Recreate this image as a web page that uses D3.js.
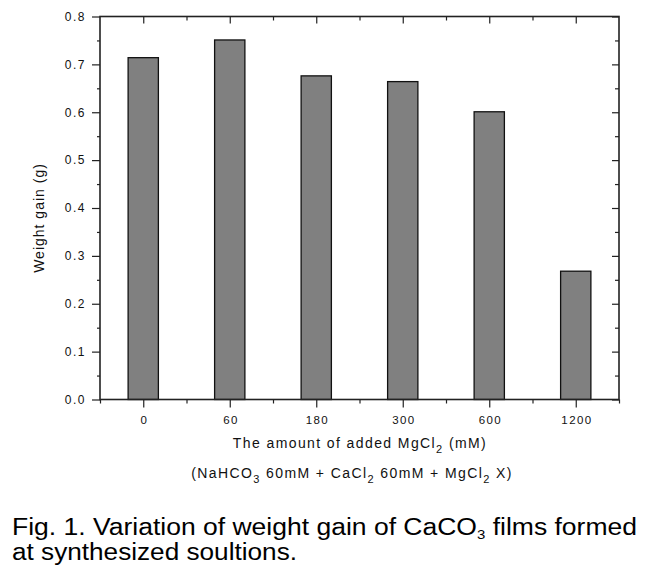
<!DOCTYPE html>
<html>
<head>
<meta charset="utf-8">
<script src="https://cdn.jsdelivr.net/npm/d3@7"></script>
<style>
  body { margin: 0; background: #fff; }
  svg text { font-family: "Liberation Sans", Arial, sans-serif; fill: #111; }
</style>
</head>
<body>
<div id="chart"></div>
<script>
// data
var categories = ["0", "60", "180", "300", "600", "1200"];
var weightGain = [0.714, 0.751, 0.676, 0.664, 0.601, 0.268];
var yMajorTicks = [0.0, 0.1, 0.2, 0.3, 0.4, 0.5, 0.6, 0.7, 0.8];
var yMinorTicks = [0.05, 0.15, 0.25, 0.35, 0.45, 0.55, 0.65, 0.75];

var data = categories.map(function (c, i) { return { cat: c, value: weightGain[i] }; });

var W = 657, H = 574;
var margin = { left: 100, right: 38, top: 16.5, bottom: 174.5 };
var width = W - margin.left - margin.right, height = H - margin.top - margin.bottom;

var svg = d3.select("#chart").append("svg")
    .attr("width", W).attr("height", H);

var g = svg.append("g")
    .attr("transform", "translate(" + margin.left + "," + margin.top + ")");

var x = d3.scaleBand()
    .domain(categories)
    .range([0, width])
    .paddingInner(0.65)
    .paddingOuter(0.325);
var step = x.step();

var y = d3.scaleLinear().domain([0, 0.8]).range([height, 0]);

// bars
g.selectAll("rect.bar")
    .data(data)
    .enter().append("rect")
    .attr("class", "bar")
    .attr("x", function (d) { return x(d.cat); })
    .attr("y", function (d) { return y(d.value); })
    .attr("width", x.bandwidth())
    .attr("height", function (d) { return height - y(d.value); })
    .style("fill", "#808080")
    .style("stroke", "#111")
    .style("stroke-width", 1.3);

// minor x ticks sit on band edges, major ones at band centres
var edges = d3.range(categories.length + 1);
var xe = d3.scaleLinear().domain([0, categories.length]).range([0, width]);
var xMid = d3.scalePoint().domain(categories).range([step / 2, width - step / 2]);

function styleAxis(sel) {
    sel.select("path.domain").remove();
    sel.selectAll("line").style("stroke", "#222").style("stroke-width", 1.2);
}

// bottom axis
var axBottom = g.append("g").attr("transform", "translate(0," + height + ")")
    .call(d3.axisBottom(xMid).tickSizeInner(8).tickSizeOuter(0).tickPadding(8));
axBottom.selectAll("text").style("font-size", "11.5px").style("letter-spacing", "1.4px")
    .attr("dx", "0.7px");
styleAxis(axBottom);
var axBottomMinor = g.append("g").attr("transform", "translate(0," + height + ")")
    .call(d3.axisBottom(xe).tickValues(edges).tickSizeInner(4).tickSizeOuter(0).tickFormat(""));
styleAxis(axBottomMinor);

// top axis (ticks inward)
var axTop = g.append("g")
    .call(d3.axisTop(xMid).tickSizeInner(-7).tickSizeOuter(0).tickFormat(""));
styleAxis(axTop);
var axTopMinor = g.append("g")
    .call(d3.axisTop(xe).tickValues(edges.slice(1, -1)).tickSizeInner(-4).tickSizeOuter(0).tickFormat(""));
styleAxis(axTopMinor);

// left axis
var axLeft = g.append("g")
    .call(d3.axisLeft(y).tickValues(yMajorTicks).tickFormat(d3.format(".1f"))
        .tickSizeInner(8).tickSizeOuter(0).tickPadding(6));
axLeft.selectAll("text").style("font-size", "12px").style("letter-spacing", "1.5px");
styleAxis(axLeft);
var axLeftMinor = g.append("g")
    .call(d3.axisLeft(y).tickValues(yMinorTicks).tickFormat("").tickSizeInner(3).tickSizeOuter(0));
styleAxis(axLeftMinor);

// right axis (ticks inward)
var axRight = g.append("g").attr("transform", "translate(" + width + ",0)")
    .call(d3.axisRight(y).tickValues(yMajorTicks).tickFormat("").tickSizeInner(-7).tickSizeOuter(0));
styleAxis(axRight);
var axRightMinor = g.append("g").attr("transform", "translate(" + width + ",0)")
    .call(d3.axisRight(y).tickValues(yMinorTicks).tickFormat("").tickSizeInner(-4).tickSizeOuter(0));
styleAxis(axRightMinor);

// frame
g.append("rect")
    .attr("x", 0).attr("y", 0)
    .attr("width", width).attr("height", height)
    .style("fill", "none")
    .style("stroke", "#222")
    .style("stroke-width", 1.6);

// y title
svg.append("text")
    .attr("transform", "translate(44,218) rotate(-90)")
    .attr("text-anchor", "middle")
    .style("font-size", "14px")
    .style("letter-spacing", "1px")
    .text("Weight gain (g)");

// x title, two lines with subscripts
function sub(t, s) { t.append("tspan").attr("dy", 5).style("font-size", "11px").text(s); }

var xt1 = svg.append("text")
    .attr("x", 360).attr("y", 448)
    .attr("text-anchor", "middle")
    .style("font-size", "14px").style("letter-spacing", "1.4px");
xt1.append("tspan").text("The amount of added MgCl");
sub(xt1, "2");
xt1.append("tspan").attr("dy", -5).text(" (mM)");

var xt2 = svg.append("text")
    .attr("x", 352).attr("y", 478)
    .attr("text-anchor", "middle")
    .style("font-size", "14px").style("letter-spacing", "1.4px");
xt2.append("tspan").text("(NaHCO");
sub(xt2, "3");
xt2.append("tspan").attr("dy", -5).text(" 60mM + CaCl");
sub(xt2, "2");
xt2.append("tspan").attr("dy", -5).text(" 60mM + MgCl");
sub(xt2, "2");
xt2.append("tspan").attr("dy", -5).text(" X)");

// figure caption
var cap1 = svg.append("text")
    .attr("x", 12).attr("y", 535)
    .attr("textLength", 625).attr("lengthAdjust", "spacingAndGlyphs")
    .style("font-size", "23px").style("fill", "#000");
cap1.append("tspan").text("Fig. 1. Variation of weight gain of CaCO");
cap1.append("tspan").attr("dy", 4).style("font-size", "13px").text("3");
cap1.append("tspan").attr("dy", -4).text(" films formed");

svg.append("text")
    .attr("x", 12).attr("y", 560)
    .attr("textLength", 285).attr("lengthAdjust", "spacingAndGlyphs")
    .style("font-size", "23px").style("fill", "#000")
    .text("at synthesized soultions.");
</script>
</body>
</html>
